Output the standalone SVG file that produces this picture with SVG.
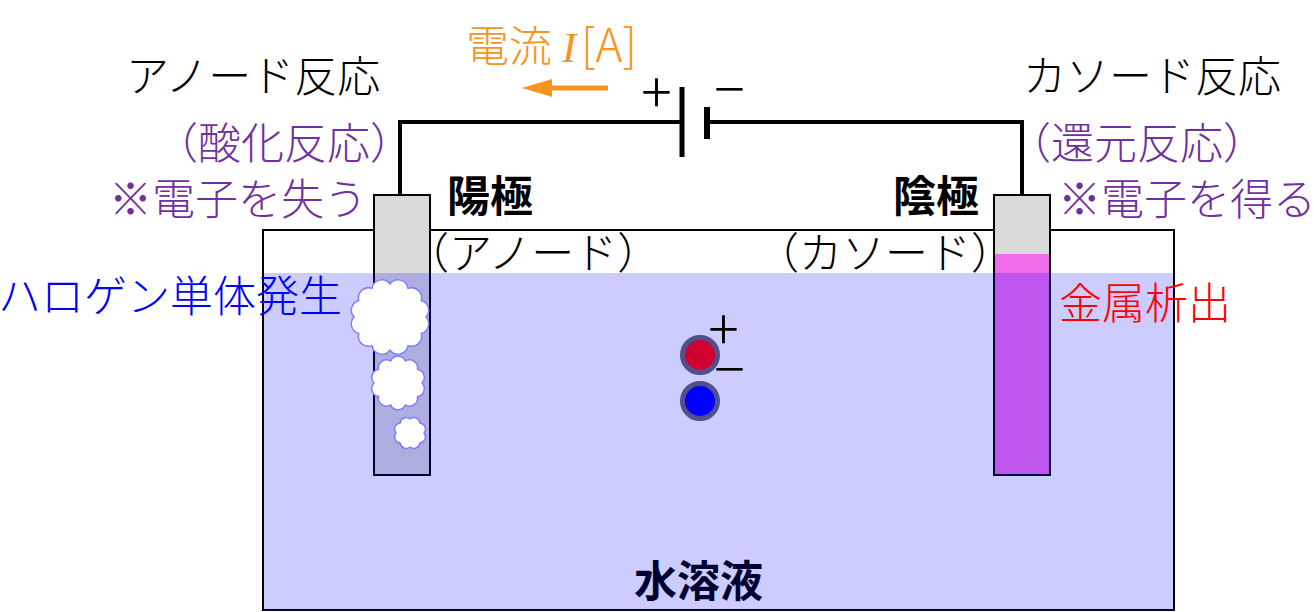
<svg xmlns="http://www.w3.org/2000/svg" width="1314" height="612" viewBox="0 0 1314 612">
  <style>
    .jp { font-family: "Noto Sans CJK JP", "Noto Sans", sans-serif; font-size: 43px; font-weight: 300; }
    .bold { font-weight: bold; }
    .black { fill: #000; }
    .purple { fill: #7030A0; }
    .orange { fill: #F7941D; }
    .wire { fill: none; stroke: #000; stroke-width: 4; stroke-linejoin: miter; stroke-linecap: butt; }
    .plate { stroke: #000; stroke-linecap: butt; }
    .electrode { fill: #D9D9D9; stroke: #000; stroke-width: 2; }
    .cloud { fill: #fff; stroke: #8080FF; stroke-width: 1.5; stroke-linejoin: round; }
    .ion { stroke: #50508A; stroke-width: 5; }
    .sym { font-family: "Noto Sans CJK JP", "Noto Sans", sans-serif; font-size: 57px; font-weight: 300; fill: #000; }
  </style>
  <defs>
    <marker id="arrowhead" viewBox="0 0 6 3.6" refX="0" refY="1.8" markerWidth="6" markerHeight="3.6" orient="auto" markerUnits="strokeWidth">
      <path d="M0,0 L6,1.8 L0,3.6 Z" fill="#F7941D"/>
    </marker>
  </defs>

  <!-- tank outline -->
  <g id="tank">
    <rect x="263" y="230" width="911" height="380" fill="#fff" stroke="#000" stroke-width="2"/>
  </g>

  <!-- anode (left electrode) -->
  <g id="anode">
    <rect class="electrode" x="374" y="195" width="56" height="280"/>
  </g>

  <!-- cathode (right electrode) with deposited metal -->
  <g id="cathode">
    <rect class="electrode" x="994" y="195" width="56" height="280"/>
    <rect x="995" y="254" width="54" height="220" fill="#EE6CEA"/>
  </g>

  <!-- wires and current arrow -->
  <g id="connectors">
    <polyline class="wire" points="400,195 400,122 682,122"/>
    <polyline class="wire" points="707,122 1022,122 1022,195"/>
    <line x1="608" y1="88" x2="552" y2="88" stroke="#F7941D" stroke-width="5" marker-end="url(#arrowhead)"/>
  </g>

  <!-- battery -->
  <g id="battery">
    <line class="plate" x1="682" y1="87" x2="682" y2="157" stroke-width="5"/>
    <line class="plate" x1="707" y1="107" x2="707" y2="139" stroke-width="6"/>
    <text class="sym" x="656.5" y="113" text-anchor="middle">+</text>
    <text class="sym" x="729.5" y="110" text-anchor="middle">−</text>
  </g>

  <!-- aqueous solution (translucent blue over tank and electrodes) -->
  <g id="solution">
    <rect x="263" y="273" width="911" height="338" fill="#0000FF" fill-opacity="0.2"/>
    <text class="jp bold" x="634" y="597" font-size="42" fill="#000033">水溶液</text>
  </g>

  <!-- halogen gas bubbles at anode -->
  <g id="bubbles">
    <path class="cloud" d="M426,317 A10,10 0 0 1 421.2,333.5 A10,10 0 0 1 408,345.6 A10,10 0 0 1 390,350 A10,10 0 0 1 372,345.6 A10,10 0 0 1 358.8,333.5 A10,10 0 0 1 354,317 A10,10 0 0 1 358.8,300.5 A10,10 0 0 1 372,288.4 A10,10 0 0 1 390,284 A10,10 0 0 1 408,288.4 A10,10 0 0 1 421.2,300.5 A10,10 0 0 1 426,317 Z"/>
    <path class="cloud" d="M422,383 A8,8 0 0 1 417.4,396.5 A8,8 0 0 1 405.4,404.9 A8,8 0 0 1 390.6,404.9 A8,8 0 0 1 378.6,396.5 A8,8 0 0 1 374,383 A8,8 0 0 1 378.6,369.5 A8,8 0 0 1 390.6,361.1 A8,8 0 0 1 405.4,361.1 A8,8 0 0 1 417.4,369.5 A8,8 0 0 1 422,383 Z"/>
    <path class="cloud" d="M424,433 A6,6 0 0 1 419.9,442.9 A6,6 0 0 1 410,447 A6,6 0 0 1 400.1,442.9 A6,6 0 0 1 396,433 A6,6 0 0 1 400.1,423.1 A6,6 0 0 1 410,419 A6,6 0 0 1 419.9,423.1 A6,6 0 0 1 424,433 Z"/>
  </g>

  <!-- ions in solution -->
  <g id="ions">
    <circle class="ion" cx="700" cy="355" r="17.5" fill="#D0002F"/>
    <circle class="ion" cx="700" cy="401" r="17.5" fill="#0000FF"/>
    <text class="sym" x="723.5" y="349.5" text-anchor="middle">+</text>
    <text class="sym" x="729.5" y="390" text-anchor="middle">−</text>
  </g>

  <!-- labels -->
  <g id="current-label">
    <text class="jp orange" font-size="42"><tspan x="466" y="62">電流</tspan><tspan x="562" y="62" font-family="'Liberation Serif', serif" font-style="italic" font-weight="normal">I</tspan><tspan x="581" y="62" font-size="46">[A]</tspan></text>
  </g>
  <g id="anode-labels">
    <text class="jp black" x="126" y="92" font-size="44.5">アノード反応</text>
    <text class="jp purple" x="155" y="159" font-size="42">（酸化反応）</text>
    <text class="jp purple" x="109" y="215" font-size="43.5">※電子を失う</text>
    <text class="jp bold black" x="447" y="212">陽極</text>
    <text class="jp black" x="406" y="269">（アノード）</text>
    <text class="jp" x="-2" y="312" fill="#0000FF">ハロゲン単体発生</text>
  </g>
  <g id="cathode-labels">
    <text class="jp black" x="1023" y="92" font-size="44.5">カソード反応</text>
    <text class="jp purple" x="1008" y="159" font-size="42">（還元反応）</text>
    <text class="jp purple" x="1058" y="215" font-size="43.5">※電子を得る</text>
    <text class="jp bold black" x="893" y="212">陰極</text>
    <text class="jp black" x="756" y="269">（カソード）</text>
    <text class="jp" x="1059" y="319" font-size="43.5" fill="#FF0000">金属析出</text>
  </g>
</svg>
